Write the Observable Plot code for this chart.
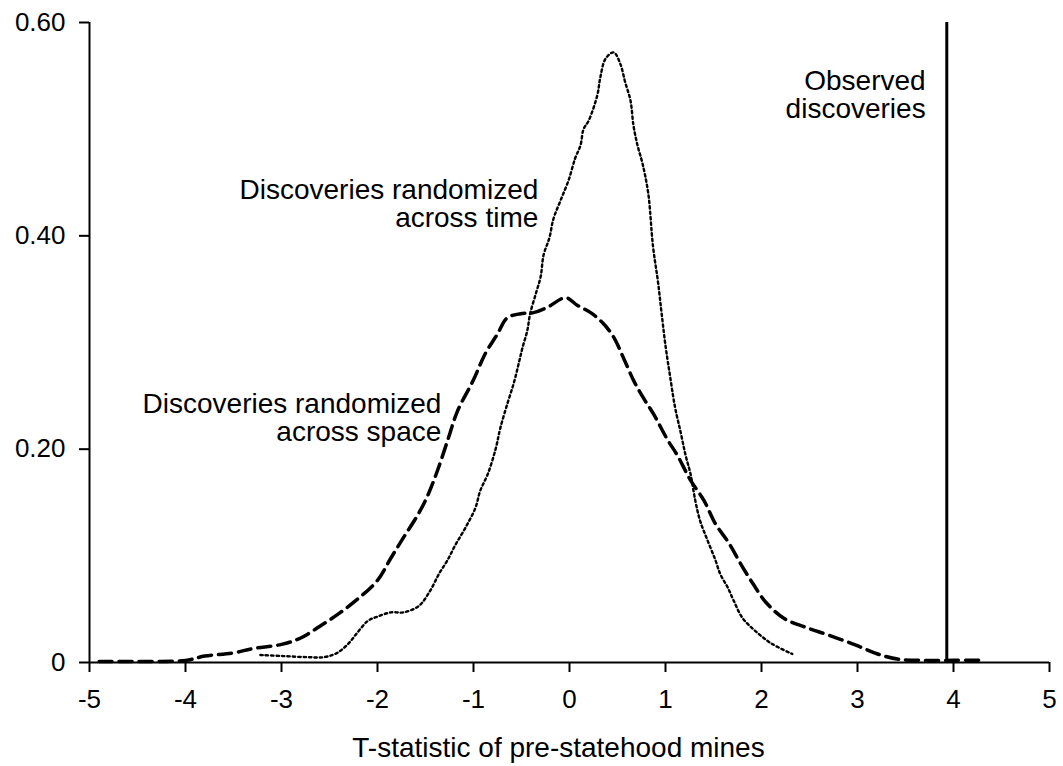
<!DOCTYPE html>
<html>
<head>
<meta charset="utf-8">
<script src="https://cdn.jsdelivr.net/npm/d3@7"></script>
<script src="https://cdn.jsdelivr.net/npm/@observablehq/plot@0.6"></script>
<style>
  html, body { margin: 0; padding: 0; background: #fff; }
</style>
</head>
<body>
<div id="chart"></div>
<script>
// Discoveries randomized across space (dashed)
const spaceX = [-4.9, -4.5, -4.0, -3.8, -3.5, -3.3, -3.0, -2.8, -2.6, -2.4, -2.2, -2.0, -1.86, -1.73, -1.57, -1.47, -1.375, -1.27, -1.17, -1.0, -0.875, -0.75, -0.65, -0.51, -0.375, -0.23, -0.04, 0.08, 0.22, 0.35, 0.46, 0.56, 0.67, 0.77, 0.875, 1.02, 1.125, 1.26, 1.40, 1.52, 1.66, 1.78, 1.91, 2.05, 2.24, 2.46, 2.72, 2.99, 3.21, 3.43, 3.7, 4.0, 4.27];
const spaceY = [0.001, 0.001, 0.002, 0.006, 0.009, 0.013, 0.017, 0.023, 0.034, 0.046, 0.060, 0.077, 0.098, 0.117, 0.140, 0.158, 0.180, 0.208, 0.235, 0.265, 0.290, 0.308, 0.323, 0.327, 0.328, 0.333, 0.342, 0.335, 0.328, 0.318, 0.305, 0.286, 0.264, 0.248, 0.233, 0.209, 0.194, 0.171, 0.152, 0.130, 0.112, 0.093, 0.074, 0.056, 0.041, 0.033, 0.025, 0.016, 0.008, 0.003, 0.002, 0.002, 0.002];

// Discoveries randomized across time (dotted)
const timeX = [-3.22, -2.98, -2.73, -2.56, -2.42, -2.30, -2.21, -2.10, -2.0, -1.86, -1.73, -1.57, -1.45, -1.36, -1.27, -1.19, -1.08, -0.98, -0.93, -0.85, -0.77, -0.72, -0.646, -0.58, -0.53, -0.49, -0.44, -0.41, -0.35, -0.30, -0.27, -0.21, -0.167, -0.094, -0.01, 0.06, 0.115, 0.146, 0.2, 0.29, 0.32, 0.375, 0.46, 0.53, 0.58, 0.635, 0.667, 0.708, 0.76, 0.82, 0.87, 0.92, 0.96, 1.0, 1.05, 1.10, 1.16, 1.21, 1.26, 1.31, 1.36, 1.44, 1.52, 1.57, 1.65, 1.71, 1.80, 1.93, 2.10, 2.32];
const timeY = [0.007, 0.006, 0.005, 0.005, 0.009, 0.018, 0.028, 0.039, 0.043, 0.047, 0.047, 0.053, 0.0675, 0.083, 0.096, 0.11, 0.127, 0.145, 0.161, 0.177, 0.2, 0.22, 0.243, 0.262, 0.28, 0.295, 0.311, 0.327, 0.346, 0.362, 0.382, 0.398, 0.416, 0.433, 0.452, 0.473, 0.485, 0.50, 0.508, 0.532, 0.548, 0.566, 0.572, 0.561, 0.544, 0.527, 0.503, 0.485, 0.468, 0.44, 0.39, 0.358, 0.327, 0.297, 0.267, 0.239, 0.215, 0.194, 0.177, 0.152, 0.133, 0.114, 0.096, 0.083, 0.070, 0.058, 0.042, 0.030, 0.018, 0.008];

// Observed value
const observed = [3.93];

// Ticks
const xTicks = [-5, -4, -3, -2, -1, 0, 1, 2, 3, 4, 5];
const yTicks = [0, 0.2, 0.4, 0.6];
const yTickLabels = ["0", "0.20", "0.40", "0.60"];

// Annotations
const labelText = ["Observed\ndiscoveries", "Discoveries randomized\nacross time", "Discoveries randomized\nacross space"];
const labelX = [3.71, -0.325, -1.335];
const labelY = [0.532, 0.430, 0.229];
const axisTitle = "T-statistic of pre-statehood mines";

const space = spaceX.map((x, i) => ({x, y: spaceY[i]}));
const time = timeX.map((x, i) => ({x, y: timeY[i]}));
const labels = labelText.map((t, i) => ({x: labelX[i], y: labelY[i], t}));

const chart = Plot.plot({
  width: 1063,
  height: 766,
  marginLeft: 89,
  marginRight: 14,
  marginTop: 22,
  marginBottom: 104,
  x: {domain: [-5, 5]},
  y: {domain: [0, 0.6]},
  style: {fontFamily: "'Liberation Sans', Arial, sans-serif", color: "black", background: "white", overflow: "visible"},
  marks: [
    Plot.line(space, {x: "x", y: "y", stroke: "black", strokeWidth: 3.5, strokeDasharray: "13,7", curve: "catmull-rom"}),
    Plot.line(time, {x: "x", y: "y", stroke: "black", strokeWidth: 2.4, strokeDasharray: "2.4,3", curve: "catmull-rom"}),
    Plot.ruleX(observed, {y1: 0, y2: 0.6, stroke: "black", strokeWidth: 3}),
    Plot.ruleY([0], {stroke: "black", strokeWidth: 2}),
    Plot.ruleX([-5], {stroke: "black", strokeWidth: 2}),
    Plot.axisX({ticks: xTicks, tickFormat: d => String(d), tickSize: 10, tickPadding: 17, strokeWidth: 2, fontSize: 26, label: null}),
    Plot.axisY({ticks: yTicks, tickFormat: d => yTickLabels[yTicks.indexOf(d)], tickSize: 10, tickPadding: 14, strokeWidth: 2, fontSize: 26, label: null}),
    Plot.text(labels, {x: "x", y: "y", text: "t", textAnchor: "end", lineAnchor: "middle", lineHeight: 1.0, fontSize: 28, fill: "black"}),
    Plot.text([axisTitle], {text: d => d, frameAnchor: "bottom", dy: 86, dx: -11, lineAnchor: "middle", fontSize: 28, fill: "black"})
  ]
});
document.getElementById("chart").appendChild(chart);
</script>
</body>
</html>
